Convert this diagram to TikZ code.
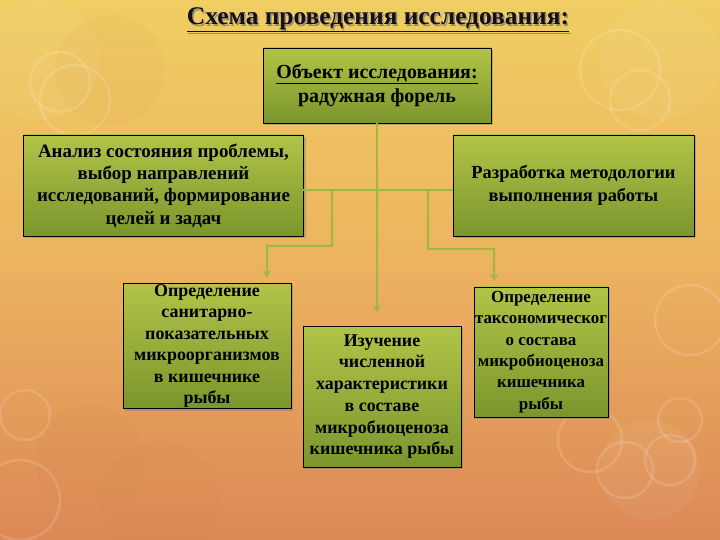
\documentclass[tikz,border=0pt]{standalone}
\usepackage{fontspec}
\setmainfont{Liberation Serif}
\usetikzlibrary{arrows.meta,shadows}
\definecolor{bgtop}{RGB}{240,206,98}
\definecolor{bgmid}{RGB}{236,178,96}
\definecolor{bgbot}{RGB}{220,136,86}
\definecolor{boxtop}{RGB}{178,196,72}
\definecolor{boxbot}{RGB}{122,150,44}
\definecolor{conn}{RGB}{160,184,62}
\definecolor{titlec}{RGB}{20,15,30}
\begin{document}
\begin{tikzpicture}[x=1bp,y=-1bp,
  box/.style={draw=black, line width=0.8bp, top color=boxtop, bottom color=boxbot,
    align=center, inner sep=0pt, font=\bfseries,
    drop shadow={shadow xshift=2bp, shadow yshift=-2bp, opacity=0.45}},
  con/.style={draw=conn, line width=2bp},
  arr/.style={con, -{Stealth[length=8bp,width=8bp]}},
  ring/.style={draw=white, line width=2.5bp, opacity=0.14},
  blob/.style={fill=white, opacity=0.05},
  dblob/.style={fill=brown, opacity=0.06}]
\useasboundingbox (0,0) rectangle (720,540);
\shade[top color=bgtop, bottom color=bgbot, middle color=bgmid] (0,0) rectangle (720,540);
% decorative bokeh
\fill[blob] (40,60) circle (60);
\fill[dblob] (110,70) circle (55);
\fill[blob] (660,60) circle (60);
\fill[dblob] (90,460) circle (55);
\fill[dblob] (160,500) circle (60);
\fill[blob] (650,470) circle (50);
\draw[ring] (75,100) circle (35);
\draw[ring] (60,82) circle (30);
\draw[ring] (620,70) circle (40);
\draw[ring] (640,100) circle (30);
\draw[ring] (25,415) circle (25);
\draw[ring] (20,500) circle (40);
\draw[ring] (590,440) circle (32);
\draw[ring] (625,470) circle (28);
\draw[ring] (670,460) circle (25);
\draw[ring] (680,420) circle (22);
\draw[ring] (690,320) circle (35);

% title
\node[font=\bfseries\fontsize{25.5}{28}\selectfont, text=black!55, opacity=0.7] at (379.5,21.5) {\underline{Схема проведения исследования:}};
\node (title) [font=\bfseries\fontsize{25.5}{28}\selectfont, text=titlec] at (378,20) {\underline{Схема проведения исследования:}};

% boxes
\node (top) [box, minimum width=228bp, minimum height=75bp, font=\bfseries\fontsize{20}{24.5}\selectfont] at (377,85.5)
  {\underline{Объект исследования:}\\радужная форель};
\node (L1) [box, minimum width=280bp, minimum height=101bp, font=\bfseries\fontsize{19}{22.5}\selectfont] at (163.5,185.5)
  {Анализ состояния проблемы,\\выбор направлений\\исследований, формирование\\целей и задач};
\node (R1) [box, minimum width=241bp, minimum height=101bp, font=\bfseries\fontsize{18.5}{22.5}\selectfont] at (573.5,185.5)
  {Разработка методологии\\выполнения работы};
\node (L2) [box, minimum width=168bp, minimum height=125bp, font=\bfseries\fontsize{18}{21.5}\selectfont] at (207,346)
  {Определение\\санитарно-\\показательных\\микроорганизмов\\в кишечнике\\рыбы};
\node (M) [box, minimum width=158bp, minimum height=141bp, font=\bfseries\fontsize{18}{21.8}\selectfont] at (382,396.5)
  {Изучение\\численной\\характеристики\\в составе\\микробиоценоза\\кишечника рыбы};
\node (R2) [box, minimum width=134bp, minimum height=130bp, font=\bfseries\fontsize{17}{21.5}\selectfont] at (541,352)
  {Определение\\таксономическог\\о состава\\микробиоценоза\\кишечника\\рыбы};

% connectors
\coordinate (hl) at (303,190);
\coordinate (hr) at (453,190);
\coordinate (bl) at (332,190);
\coordinate (br) at (428,190);
\draw[con] (hl) -- (hr);
\draw[arr, shorten >=13bp] (top.south) -- (top.south |- M.north);
\draw[arr, shorten >=5bp] (bl) -- (332,246) -- (267,246) -- ([xshift=60bp]L2.north);
\draw[arr, shorten >=5bp] (br) -- (428,249) -- (494,249) -- ([xshift=-47bp]R2.north);
\end{tikzpicture}
\end{document}
